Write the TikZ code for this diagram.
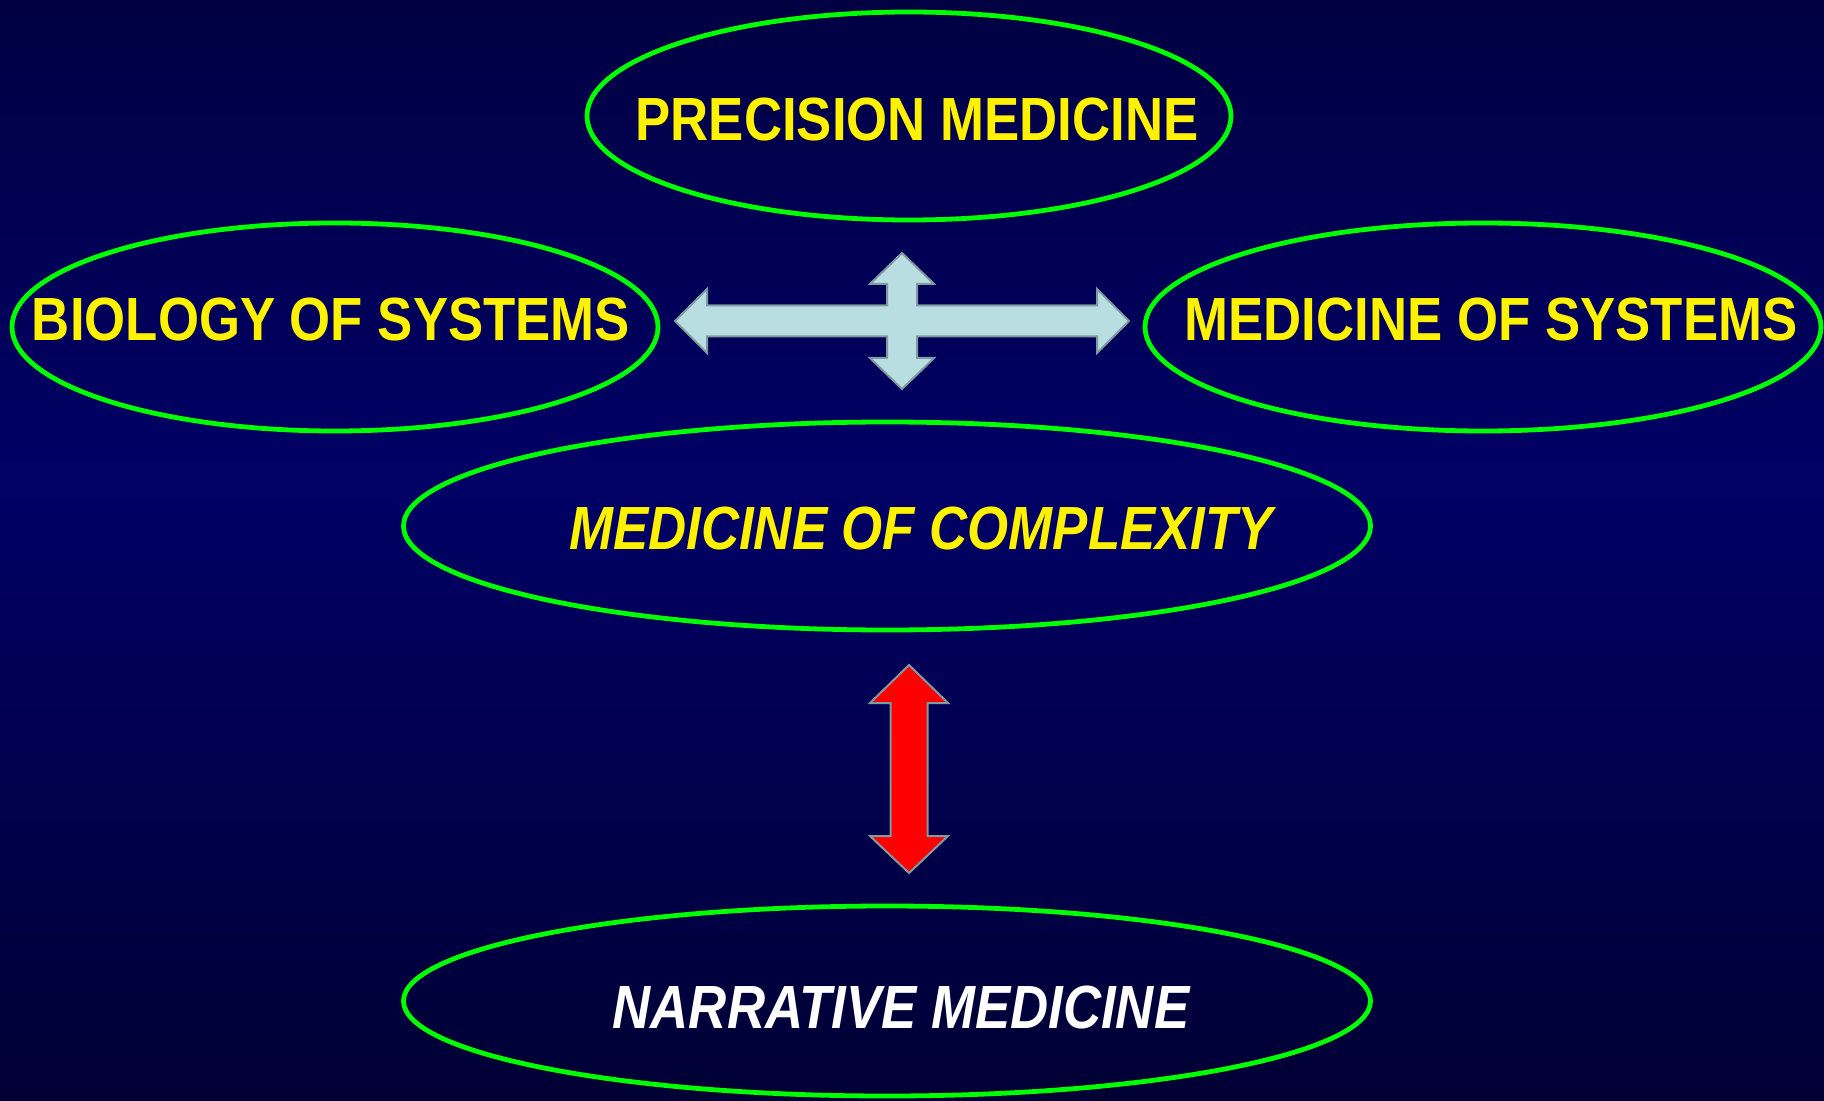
\documentclass[tikz,border=0pt]{standalone}
\usepackage{fontspec}
\usepackage{xcolor}
\usepackage{tikz}
\usetikzlibrary{shapes.geometric, calc}
\newfontfamily\slidefont[FakeStretch=0.865]{Liberation Sans}
\definecolor{bgtop}{RGB}{0,0,66}
\definecolor{bgmid}{RGB}{0,0,102}
\definecolor{bgbot}{RGB}{0,0,52}
\definecolor{ovalgreen}{RGB}{0,255,0}
\definecolor{pale}{RGB}{184,222,226}
\definecolor{rim}{RGB}{128,155,160}

\begin{document}
\begin{tikzpicture}[x=0.5pt, y=-0.5pt,
  oval/.style={ellipse, draw=ovalgreen, line width=2.4pt, minimum height=104pt},
  lbl/.style={font=\slidefont\bfseries\fontsize{30.5}{36}\selectfont, text=yellow, inner sep=0pt},
  blockarrow/.style={draw=rim, line width=1pt, line join=miter}]
\useasboundingbox (0,0) rectangle (1824,1101);
\shade[top color=bgtop, bottom color=bgmid] (0,0) rectangle (1824,481);
\shade[top color=bgmid, bottom color=bgbot] (0,480) rectangle (1824,1101);

% the five fields
\node[oval, minimum width=322pt] (prec) at (909,116) {};
\node[oval, minimum width=323pt] (bio) at (335,327) {};
\node[oval, minimum width=338pt] (msys) at (1483,327) {};
\node[oval, minimum width=483.5pt] (cplx) at (887,526) {};
\node[oval, minimum width=483.5pt, minimum height=95pt] (narr) at (887,1001) {};

\node[lbl] (prec-t) at (917,120) {PRECISION MEDICINE};
\node[lbl] (bio-t) at (331,320) {BIOLOGY OF SYSTEMS};
\node[lbl] (msys-t) at (1491,320) {MEDICINE OF SYSTEMS};
\node[lbl, font=\slidefont\bfseries\itshape\fontsize{30.5}{36}\selectfont] (cplx-t) at (921,528) {MEDICINE OF COMPLEXITY};
\node[lbl, text=white, font=\slidefont\bfseries\itshape\fontsize{30.5}{36}\selectfont] (narr-t) at (901,1007) {NARRATIVE MEDICINE};

% four-way arrow between the top three
\coordinate (hub) at (902,321);
\draw[blockarrow, fill=pale] ($(hub)+(227,0)$) -- ++(-32,32) -- ++(0,-16.5) -- ++(-180,0)
  -- ++(0,21.5) -- ++(17,0) -- ++(-32,31) -- ++(-32,-31) -- ++(17,0) -- ++(0,-21.5)
  -- ++(-180,0) -- ++(0,16.5) -- ++(-32,-32) -- ++(32,-32) -- ++(0,16.5) -- ++(180,0)
  -- ++(0,-21.5) -- ++(-17,0) -- ++(32,-31) -- ++(32,31) -- ++(-17,0) -- ++(0,21.5)
  -- ++(180,0) -- ++(0,-16.5) -- cycle;

% red double arrow
\coordinate (link) at (909,769);
\draw[blockarrow, fill=red] ($(link)+(0,-104)$) -- ++(39,38) -- ++(-20.5,0) -- ++(0,133)
  -- ++(20.5,0) -- ++(-39,37) -- ++(-39,-37) -- ++(20.5,0) -- ++(0,-133) -- ++(-20.5,0) -- cycle;
\end{tikzpicture}
\end{document}
